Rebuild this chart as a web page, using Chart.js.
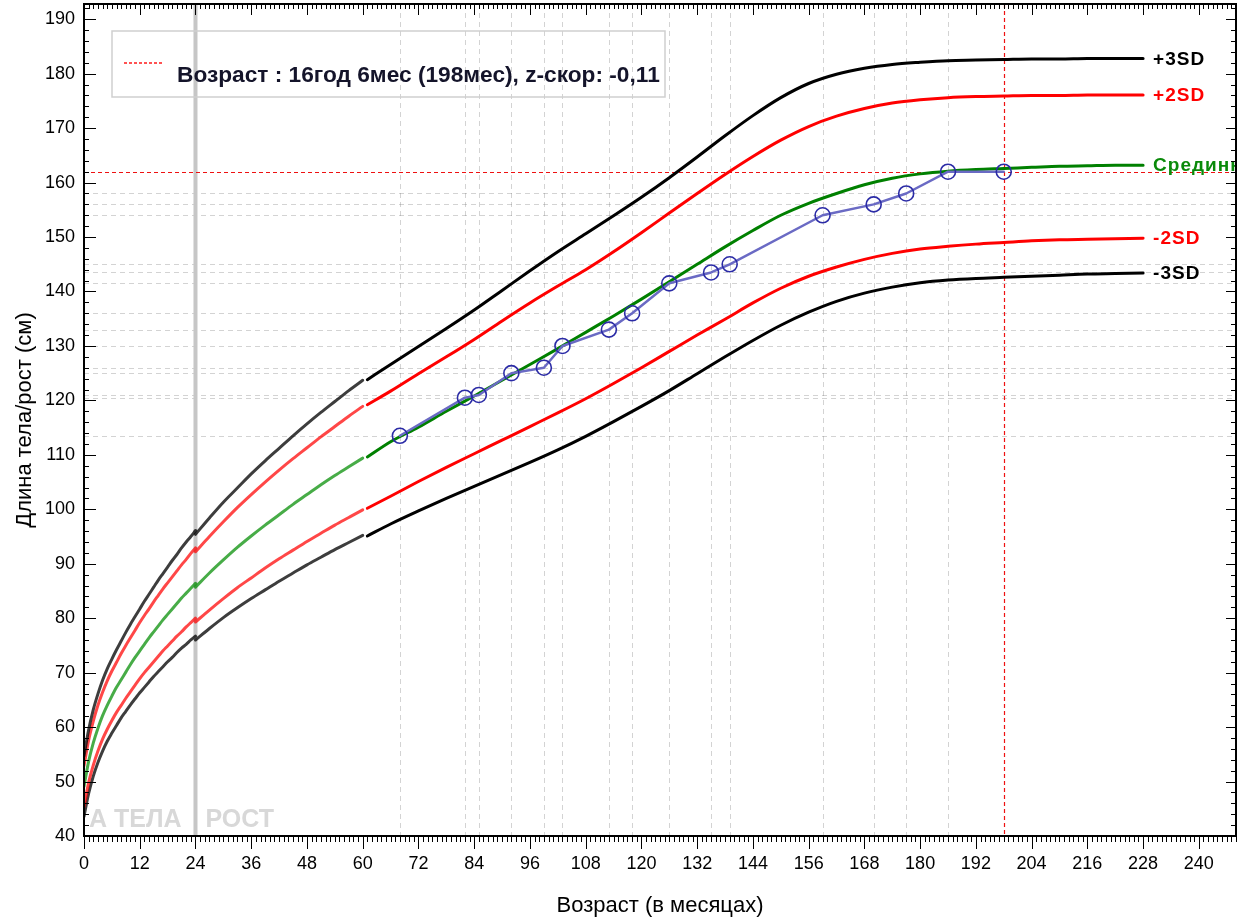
<!DOCTYPE html>
<html><head><meta charset="utf-8">
<script src="https://cdn.jsdelivr.net/npm/chart.js@4.4.1/dist/chart.umd.min.js"></script>
<style>html,body{margin:0;padding:0;background:#fff;overflow:hidden}</style>
</head><body>
<canvas id="c" width="1242" height="919"></canvas>
<script>
// ---- Data ----
// 0-24 months (length)
const ageA = [0,1,2,3,4,5,6,7,8,9,10,11,12,13,14,15,16,17,18,19,20,21,22,23,24];
const m3A = [43.6,47.8,51.0,53.5,55.6,57.4,58.9,60.3,61.7,62.9,64.1,65.2,66.3,67.3,68.3,69.3,70.2,71.1,72.0,72.8,73.7,74.5,75.2,76.0,76.7];
const m2A = [45.4,49.8,53.0,55.6,57.8,59.6,61.2,62.7,64.0,65.3,66.5,67.7,68.9,70.0,71.0,72.0,73.0,74.0,74.9,75.8,76.7,77.5,78.4,79.2,80.0];
const medA = [49.1,53.7,57.1,59.8,62.1,64.0,65.7,67.3,68.7,70.1,71.5,72.8,74.0,75.2,76.4,77.5,78.6,79.7,80.7,81.7,82.7,83.7,84.6,85.5,86.4];
const p2A = [52.9,57.6,61.1,64.0,66.4,68.5,70.3,71.9,73.5,75.0,76.4,77.8,79.2,80.5,81.7,83.0,84.2,85.4,86.5,87.6,88.7,89.8,90.8,91.9,92.9];
const p3A = [54.7,59.5,63.2,66.1,68.6,70.7,72.5,74.2,75.8,77.4,78.9,80.3,81.7,83.1,84.4,85.7,87.0,88.2,89.4,90.6,91.7,92.9,94.0,95.0,96.1];
// 24-60 months (height)
const ageB = [24,27,30,33,36,39,42,45,48,51,54,57,60];
const m3B = [76.0,78.1,80.1,81.9,83.6,85.2,86.8,88.3,89.8,91.2,92.6,93.9,95.2];
const m2B = [79.3,81.5,83.6,85.6,87.4,89.2,90.9,92.5,94.1,95.6,97.1,98.5,99.9];
const medB = [85.7,88.3,90.7,93.0,95.1,97.1,99.0,100.9,102.7,104.5,106.2,107.8,109.4];
const p2B = [92.2,95.0,97.7,100.3,102.7,105.0,107.2,109.3,111.3,113.3,115.2,117.1,118.9];
const p3B = [95.4,98.4,101.3,103.9,106.5,108.9,111.2,113.5,115.7,117.8,119.8,121.8,123.7];
// 61-228 months
const ageC = [61,66,72,78,84,90,96,102,108,114,120,126,132,138,144,150,156,162,168,174,180,186,192,198,204,210,216,222,228];
const m3C = [95.1,97.3,99.7,102.0,104.2,106.4,108.6,110.9,113.4,116.1,118.9,121.8,124.9,128.0,131.0,133.8,136.2,138.2,139.7,140.8,141.6,142.1,142.4,142.6,142.8,143.0,143.2,143.3,143.4];
const m2C = [100.2,102.4,105.1,107.7,110.2,112.7,115.2,117.7,120.3,123.1,126.0,129.0,132.0,134.9,137.9,140.6,142.8,144.5,145.9,147.0,147.8,148.3,148.7,149.0,149.3,149.5,149.6,149.7,149.8];
const medC = [109.6,112.4,115.1,118.0,120.8,123.7,126.6,129.5,132.5,135.5,138.6,141.8,145.0,148.2,151.2,154.0,156.2,158.0,159.6,160.8,161.6,162.1,162.4,162.6,162.8,163.0,163.1,163.2,163.2];
const p2C = [119.2,121.7,124.9,128.0,131.2,134.6,137.9,141.0,144.0,147.3,150.8,154.4,158.0,161.5,164.8,167.8,170.3,172.2,173.6,174.6,175.2,175.6,175.8,175.9,176.0,176.0,176.1,176.1,176.1];
const p3C = [123.8,126.6,129.9,133.2,136.6,140.2,143.8,147.3,150.6,153.9,157.3,160.9,164.7,168.6,172.3,175.6,178.2,179.9,181.0,181.7,182.1,182.4,182.5,182.6,182.7,182.7,182.8,182.8,182.8];
// patient measurements
const patientAge = [68,82,85,92,99,103,113,118,126,135,139,159,170,177,186,198];
const patientHeight = [113.5,120.5,121,125,126,130,133,136,141.5,143.5,145,154,156,158,162,162];
const currentAge = 198, currentHeight = 162;
const refAge = 24;
const curveLabels = ['+3SD','+2SD','Срединная','-2SD','-3SD'];
const legendText = 'Возраст : 16год 6мес (198мес), z-скор: -0,11';
const xTitle = 'Возраст (в месяцах)';
const yTitle = 'Длина тела/рост (см)';
const watermarkL = 'А ТЕЛА', watermarkR = 'РОСТ';

const FONT = '"Liberation Sans", Arial, sans-serif';
const zip = (xs, ys) => xs.map((v,i)=>({x:v,y:ys[i]}));

const curveDefs = [
  {A:p3A,B:p3B,C:p3C,col:'#000000',light:'rgba(0,0,0,0.76)',lab:curveLabels[0],labCol:'#000000'},
  {A:p2A,B:p2B,C:p2C,col:'#ff0000',light:'rgba(255,0,0,0.72)',lab:curveLabels[1],labCol:'#ff0000'},
  {A:medA,B:medB,C:medC,col:'#008000',light:'rgba(0,140,0,0.72)',lab:curveLabels[2],labCol:'#0a8a0a'},
  {A:m2A,B:m2B,C:m2C,col:'#ff0000',light:'rgba(255,0,0,0.72)',lab:curveLabels[3],labCol:'#ff0000'},
  {A:m3A,B:m3B,C:m3C,col:'#000000',light:'rgba(0,0,0,0.76)',lab:curveLabels[4],labCol:'#000000'}
];

const datasets = [{
  data: zip(patientAge, patientHeight),
  borderColor:'#6a6ac4', borderWidth:2.5, tension:0,
  pointRadius:7.5, pointBorderColor:'#2b2ba6', pointBackgroundColor:'rgba(0,0,0,0)', pointBorderWidth:1.6,
  showLine:true
}];
curveDefs.forEach(c=>{
  [[ageA,c.A,c.light],[ageB,c.B,c.light],[ageC,c.C,c.col]].forEach(([ax,ay,col])=>{
    datasets.push({data:zip(ax,ay),borderColor:col,borderWidth:3,pointRadius:0,showLine:true,
      cubicInterpolationMode:'monotone',fill:false});
  });
});

const decor = {
  id:'decor',
  beforeDatasetsDraw(chart){
    const {ctx, chartArea:a, scales:{x,y}} = chart;
    ctx.save();
    ctx.beginPath(); ctx.rect(a.left,a.top,a.right-a.left,a.bottom-a.top); ctx.clip();
    const gx = x.getPixelForValue(refAge);
    ctx.fillStyle='#d8d8d8'; ctx.font='bold 25px '+FONT; ctx.textBaseline='alphabetic';
    ctx.textAlign='right'; ctx.fillText(watermarkL, gx-14, a.bottom-9);
    ctx.textAlign='left'; ctx.fillText(watermarkR, gx+10, a.bottom-9);
    ctx.lineWidth=1; ctx.strokeStyle='rgba(120,120,120,0.33)'; ctx.setLineDash([5,4]);
    patientAge.forEach(v=>{ if(v===currentAge) return; const px=Math.round(x.getPixelForValue(v))+0.5;
      ctx.beginPath(); ctx.moveTo(px,a.top); ctx.lineTo(px,a.bottom); ctx.stroke(); });
    patientHeight.forEach(v=>{ if(v===currentHeight) return; const py=Math.round(y.getPixelForValue(v))+0.5;
      ctx.beginPath(); ctx.moveTo(a.left,py); ctx.lineTo(a.right,py); ctx.stroke(); });
    ctx.setLineDash([]); ctx.strokeStyle='#c6c6c6'; ctx.lineWidth=4;
    ctx.beginPath(); ctx.moveTo(gx,a.top); ctx.lineTo(gx,a.bottom); ctx.stroke();
    ctx.strokeStyle='#ee1111'; ctx.lineWidth=1.2; ctx.setLineDash([4,3]);
    const cx=Math.round(x.getPixelForValue(currentAge))+0.5, cy=Math.round(y.getPixelForValue(currentHeight))+0.5;
    ctx.beginPath(); ctx.moveTo(cx,a.top); ctx.lineTo(cx,a.bottom); ctx.stroke();
    ctx.beginPath(); ctx.moveTo(a.left,cy); ctx.lineTo(a.right,cy); ctx.stroke();
    ctx.restore();
  },
  afterDatasetsDraw(chart){
    const {ctx, chartArea:a, scales:{x,y}} = chart;
    ctx.save();
    ctx.beginPath(); ctx.rect(a.left,a.top,a.right-a.left,a.bottom-a.top); ctx.clip();
    ctx.font='bold 19px '+FONT; ctx.textAlign='left'; ctx.textBaseline='middle';
    try{ ctx.letterSpacing='1px'; }catch(e){}
    curveDefs.forEach(c=>{
      const lx = x.getPixelForValue(ageC[ageC.length-1])+10;
      const ly = y.getPixelForValue(c.C[c.C.length-1]);
      ctx.fillStyle=c.labCol; ctx.fillText(c.lab, lx, ly+1);
    });
    try{ ctx.letterSpacing='0px'; }catch(e){}
    ctx.strokeStyle='#cfcfcf'; ctx.lineWidth=1.5; ctx.setLineDash([]);
    ctx.strokeRect(a.left+28, a.top+27, 553, 66);
    ctx.strokeStyle='#ff1a1a'; ctx.lineWidth=1.4; ctx.setLineDash([3,2]);
    ctx.beginPath(); ctx.moveTo(a.left+40, a.top+59); ctx.lineTo(a.left+78, a.top+59); ctx.stroke();
    ctx.setLineDash([]);
    ctx.fillStyle='#14142a'; ctx.font='bold 22.7px '+FONT; ctx.textBaseline='alphabetic';
    ctx.fillText(legendText, a.left+93, a.top+78);
    ctx.restore();
  },
  afterDraw(chart){
    const {ctx, chartArea:a, scales:{x,y}} = chart;
    ctx.save();
    ctx.strokeStyle='#000'; ctx.lineWidth=1;
    ctx.beginPath();
    for(let v=0; v<=x.max; v+=1){
      const px=Math.round(x.getPixelForValue(v))+0.5; const major=(v%12===0);
      ctx.moveTo(px,a.bottom); ctx.lineTo(px,a.bottom+(major?13:6));
      ctx.moveTo(px,a.top); ctx.lineTo(px,a.top+(major?11:5));
    }
    for(let v=40; v<=y.max; v+=2){
      const py=Math.round(y.getPixelForValue(v))+0.5; const major=(v%10===0);
      ctx.moveTo(a.left,py); ctx.lineTo(a.left+(major?12:5),py);
      ctx.moveTo(a.right,py); ctx.lineTo(a.right-(major?10:5),py);
    }
    ctx.stroke();
    ctx.lineWidth=2;
    ctx.strokeRect(a.left, a.top, a.right-a.left, a.bottom-a.top);
    ctx.restore();
  }
};

new Chart(document.getElementById('c'), {
  type:'scatter',
  data:{datasets},
  options:{
    responsive:false, animation:false, devicePixelRatio:1,
    layout:{autoPadding:false, padding:{left:0,right:6,top:4,bottom:0}},
    plugins:{legend:{display:false}, tooltip:{enabled:false}},
    elements:{line:{borderCapStyle:'round',borderJoinStyle:'round'}},
    scales:{
      x:{type:'linear', min:0, max:248,
        grid:{display:false, drawTicks:false}, border:{display:false},
        ticks:{stepSize:12, includeBounds:false, autoSkip:false, maxRotation:0, padding:17,
          color:'#000', font:{family:FONT, size:18}},
        title:{display:true, text:xTitle, color:'#000', font:{family:FONT, size:22}, padding:{top:0,bottom:0}},
        afterFit(s){ s.height = 83; s.paddingLeft = 0; s.paddingRight = 0; }
      },
      y:{type:'linear', min:40, max:192.8,
        grid:{display:false, drawTicks:false}, border:{display:false},
        ticks:{stepSize:10, includeBounds:false, autoSkip:false, padding:9,
          color:'#000', font:{family:FONT, size:18}},
        title:{display:true, text:yTitle, color:'#000', font:{family:FONT, size:22}, padding:{top:12,bottom:0}},
        afterFit(s){ s.width = 84; s.paddingTop = 0; s.paddingBottom = 0; }
      }
    }
  },
  plugins:[decor]
});
</script>
</body></html>
